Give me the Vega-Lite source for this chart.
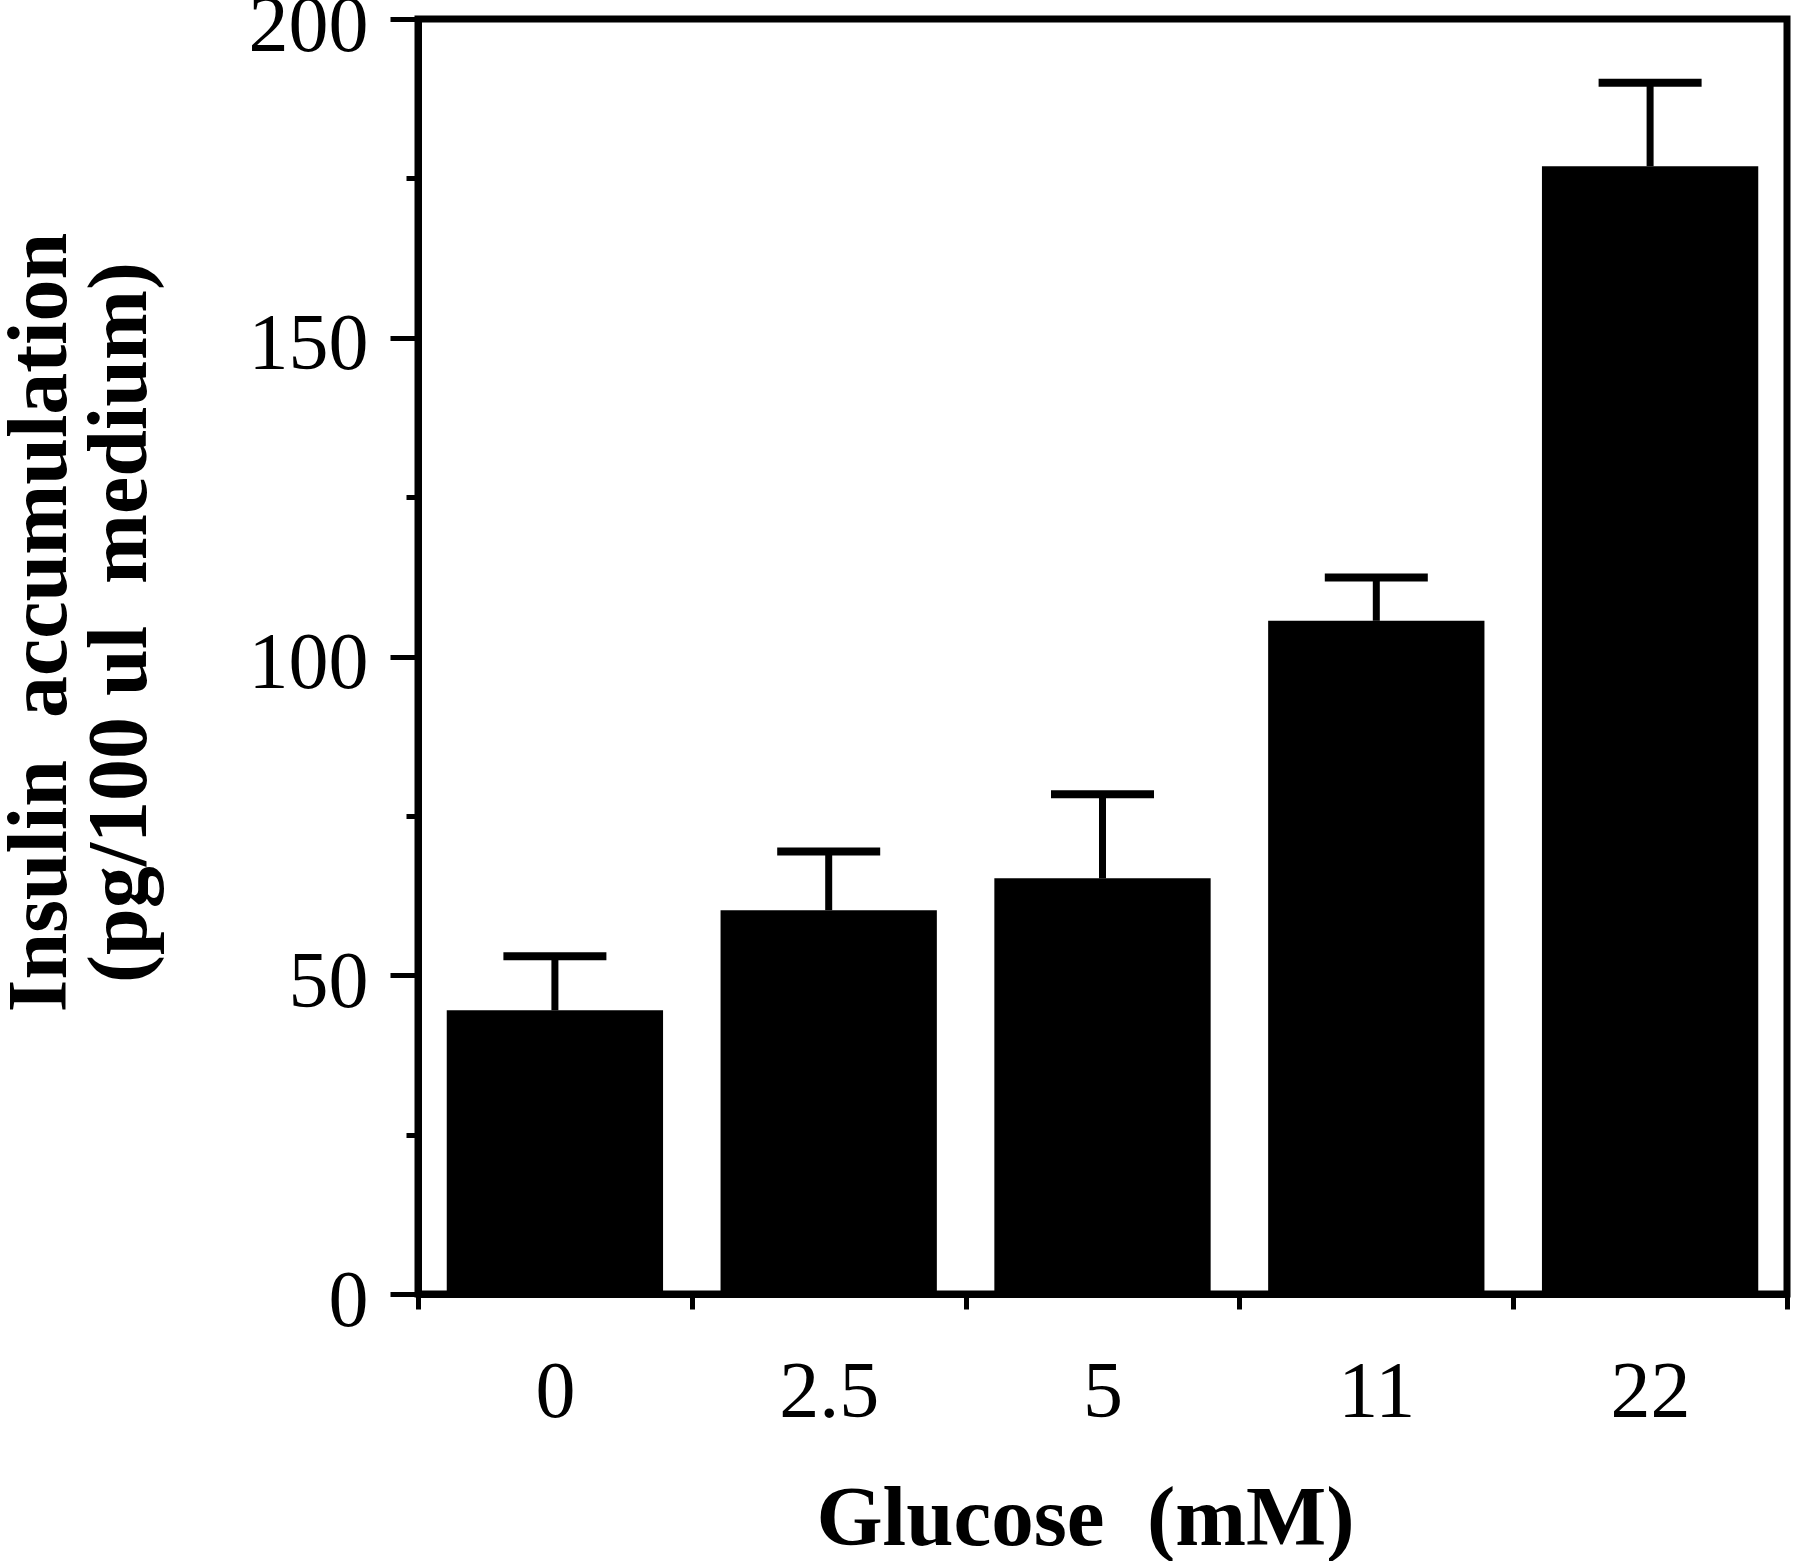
{
  "$schema": "https://vega.github.io/schema/vega-lite/v6.json",
  "width": 1369,
  "height": 1275,
  "autosize": {"type": "none"},
  "padding": {"left": 418, "top": 19, "right": 13, "bottom": 267},
  "background": "white",
  "data": {
    "values": [
      {"glucose": "0", "mean": 44.5, "upper": 53.0},
      {"glucose": "2.5", "mean": 60.2, "upper": 69.4},
      {"glucose": "5", "mean": 65.2, "upper": 78.4},
      {"glucose": "11", "mean": 105.6, "upper": 112.4},
      {"glucose": "22", "mean": 176.9, "upper": 190.0}
    ]
  },
  "encoding": {
    "x": {
      "field": "glucose",
      "type": "nominal",
      "sort": ["0", "2.5", "5", "11", "22"],
      "scale": {"paddingInner": 0, "paddingOuter": 0},
      "axis": {
        "title": "Glucose\u00a0\u00a0(mM)",
        "labelAngle": 0,
        "tickBand": "extent",
        "tickSize": 15,
        "tickWidth": 5,
        "tickColor": "black",
        "domainColor": "black",
        "domainWidth": 7,
        "labelFont": "Liberation Serif",
        "labelFontSize": 80,
        "labelColor": "black",
        "labelPadding": 44,
        "titleFont": "Liberation Serif",
        "titleFontWeight": "bold",
        "titleFontSize": 85,
        "titleColor": "black",
        "titleBaseline": "alphabetic",
        "titleX": 667,
        "titleY": 250
      }
    }
  },
  "layer": [
    {
      "mark": {"type": "bar", "color": "black", "width": {"band": 0.79}},
      "encoding": {
        "y": {
          "field": "mean",
          "type": "quantitative",
          "scale": {"domain": [0, 200], "nice": false},
          "axis": {
            "title": ["Insulin\u00a0\u00a0accumulation", "(pg/100\u00a0ul\u00a0\u00a0medium)"],
            "values": [0, 25, 50, 75, 100, 125, 150, 175, 200],
            "labelExpr": "datum.value % 50 === 0 ? datum.label : ''",
            "tickSize": {"condition": {"test": "datum.value % 50 === 0", "value": 28}, "value": 12},
            "tickWidth": 5,
            "tickColor": "black",
            "domainColor": "black",
            "domainWidth": 7,
            "grid": false,
            "labelFont": "Liberation Serif",
            "labelFontSize": 80,
            "labelColor": "black",
            "labelPadding": 22,
            "labelOffset": 7,
            "titleFont": "Liberation Serif",
            "titleFontWeight": "bold",
            "titleFontSize": 84,
            "titleColor": "black",
            "titleLineHeight": 80,
            "titleBaseline": "middle",
            "titleAngle": -90,
            "titleX": -378,
            "titleY": 603
          }
        }
      }
    },
    {
      "mark": {"type": "rule", "color": "black", "strokeWidth": 7},
      "encoding": {
        "y": {"field": "mean", "type": "quantitative"},
        "y2": {"field": "upper"}
      }
    },
    {
      "mark": {"type": "tick", "color": "black", "opacity": 1, "size": 103, "thickness": 8, "orient": "horizontal"},
      "encoding": {
        "y": {"field": "upper", "type": "quantitative"}
      }
    }
  ],
  "config": {
    "view": {"stroke": "black", "strokeWidth": 7}
  }
}
